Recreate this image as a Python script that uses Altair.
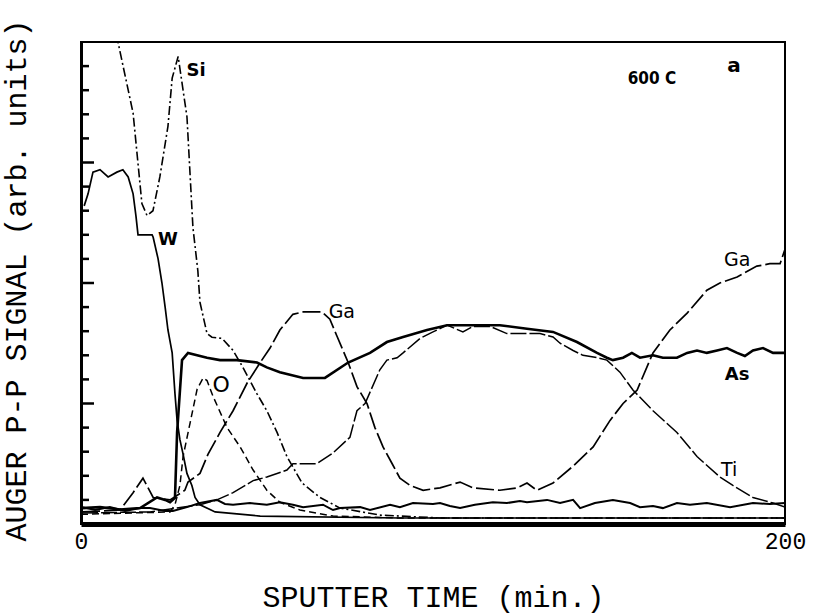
import altair as alt
import pandas as pd

# Auger depth profile, 600 C anneal: peak-to-peak signal vs sputter time
si_min = [9.0, 10.5, 14.8, 17.3, 18.75, 20.45, 22.4, 24.7, 25.9, 27.6, 30.1, 31.8, 33.2, 33.8, 35.8,
          37.2, 40.1, 43.2, 46.0, 50.0, 52.8, 55.7, 58.5, 62.8, 67.9, 73.6, 84.9, 102.0, 200.0]
si_sig = [21.0, 20.0, 17.05, 13.3, 12.8, 13.0, 14.4, 16.5, 18.5, 19.4, 16.9, 12.3, 10.5, 9.2, 7.9,
          7.75, 7.7, 7.2, 6.5, 5.4, 4.7, 3.8, 2.8, 1.7, 1.1, 0.66, 0.37, 0.25, 0.25]

w_min = [0.9, 2.0, 3.4, 5.4, 7.7, 10.2, 11.9, 13.4, 14.8, 15.6, 16.2, 20.2, 20.5, 21.9, 23.0, 23.9,
         24.7, 25.9, 26.7, 27.3, 28.1, 29.0, 30.1, 31.5, 32.4, 33.8, 38.1, 50.9, 90.6, 200.0]
w_sig = [13.2, 13.7, 14.6, 14.7, 14.4, 14.6, 14.7, 14.4, 13.7, 12.8, 12.0, 12.0, 11.9, 11.0, 10.0, 9.0,
         8.05, 7.1, 5.4, 4.3, 3.5, 2.9, 2.1, 1.6, 1.1, 0.8, 0.5, 0.33, 0.25, 0.25]

o_min = [0.0, 25.3, 26.7, 28.1, 29.0, 31.0, 33.0, 34.7, 35.8, 37.5, 41.5, 45.2, 48.9, 52.8, 56.5,
         62.2, 71.6, 90.6, 200.0]
o_sig = [0.4, 0.5, 0.8, 1.6, 2.8, 4.2, 5.6, 6.06, 5.95, 5.3, 4.0, 3.2, 2.24, 1.4, 0.9,
         0.58, 0.33, 0.25, 0.25]

ga_min = [0.3, 11.1, 14.8, 17.6, 20.5, 25.3, 29.5, 30.4, 33.8, 36.1, 39.5, 43.2, 47.2, 50.9, 53.7,
          56.5, 60.2, 63.1, 68.5, 70.7, 72.7, 75.9, 78.4, 81.25, 83.5, 85.8, 88.4, 90.6, 93.5, 97.2,
          102.0, 107.7, 111.4, 119.0, 123.9, 126.7, 129.5, 134.1, 139.8, 145.5, 150.3, 154.0, 158.0,
          162.5, 167.3, 172.2, 177.8, 181.5, 186.4, 192.0, 195.7, 198.6, 200.0]
ga_sig = [0.5, 0.58, 1.3, 1.9, 1.1, 1.0, 1.4, 1.74, 2.1, 2.9, 3.8, 4.7, 5.85, 6.7, 7.3,
          8.05, 8.7, 8.8, 8.8, 8.5, 7.8, 6.7, 5.7, 5.0, 4.0, 3.2, 2.5, 1.9, 1.6, 1.4,
          1.5, 1.74, 1.5, 1.4, 1.5, 1.7, 1.4, 1.7, 2.4, 3.2, 4.3, 5.0, 5.56,
          7.1, 8.05, 8.75, 9.7, 10.0, 10.25, 10.7, 10.8, 10.8, 11.4]

ti_min = [0.3, 19.6, 33.8, 38.6, 43.2, 48.9, 52.8, 58.5, 60.2, 67.0, 71.6, 76.4, 78.4, 80.7, 84.9,
          86.9, 89.8, 91.5, 96.3, 100.0, 104.0, 108.5, 111.4, 116.2, 121.0, 126.7, 130.4, 134.1,
          136.1, 139.8, 142.6, 146.6, 149.4, 153.1, 156.8, 162.5, 169.3, 175.0, 181.5, 185.2,
          190.9, 196.6, 200.0]
ti_sig = [0.46, 0.5, 0.8, 1.0, 1.3, 1.8, 1.95, 2.24, 2.5, 2.5, 2.95, 3.6, 4.7, 5.0, 6.4,
          6.8, 6.9, 7.1, 7.7, 7.97, 8.25, 7.97, 8.2, 8.2, 7.9, 7.9, 7.9, 7.76,
          7.5, 7.2, 7.0, 6.9, 6.8, 6.3, 5.56, 4.7, 3.8, 2.8, 1.95, 1.6,
          1.1, 0.87, 0.7]

as_min = [0.3, 5.4, 11.1, 16.8, 21.6, 23.9, 25.3, 26.7, 27.3, 28.7, 30.4, 35.8, 39.5, 44.3, 50.0,
          52.8, 56.5, 63.1, 69.3, 75.9, 82.1, 86.9, 91.5, 98.3, 104.0, 111.4, 119.0, 126.7, 134.1,
          140.9, 146.6, 149.4, 151.1, 154.0, 156.5, 158.8, 162.5, 165.3, 169.3, 172.2, 175.0,
          177.8, 180.7, 183.5, 186.4, 188.6, 190.9, 193.75, 196.6, 200.0]
as_sig = [0.66, 0.7, 0.6, 0.66, 1.1, 1.0, 0.9, 1.08, 3.8, 6.8, 7.1, 6.9, 6.8, 6.8, 6.7,
          6.5, 6.3, 6.06, 6.06, 6.7, 7.1, 7.55, 7.76, 8.05, 8.25, 8.25, 8.25, 8.1, 7.97,
          7.55, 7.1, 6.9, 6.8, 6.9, 7.1, 6.9, 7.0, 6.9, 6.9, 7.1, 7.2,
          7.1, 7.2, 7.3, 7.1, 6.97, 7.2, 7.3, 7.1, 7.1]

# low-level background trace near the baseline
bg_min = [0.3, 4.0, 8.2, 12.5, 16.8, 19.6, 23.9, 26.1, 30.1, 33.8, 38.6, 40.9, 43.2, 48.0, 52.8,
          56.5, 60.2, 63.1, 68.75, 71.6, 73.6, 79.3, 82.1, 87.8, 90.6, 94.3, 100.0, 102.0, 104.8,
          107.7, 111.9, 117.0, 121.0, 124.7, 126.7, 132.4, 136.1, 139.8, 141.8, 146.0, 151.1,
          156.0, 158.8, 162.5, 165.3, 169.3, 173.0, 177.8, 184.4, 190.9, 195.7, 200.0]
bg_sig = [0.7, 0.58, 0.7, 0.54, 0.66, 0.66, 0.54, 0.54, 0.7, 0.87, 1.0, 0.83, 0.8, 0.87, 0.8,
          0.9, 0.8, 0.7, 0.8, 0.58, 0.66, 0.7, 0.58, 0.8, 0.7, 0.87, 0.83, 0.87, 0.75,
          0.66, 0.8, 0.9, 0.87, 0.95, 0.9, 1.0, 0.87, 1.0, 0.66, 0.87, 1.0,
          0.87, 0.7, 0.75, 0.66, 0.87, 0.8, 0.87, 0.7, 0.87, 0.83, 0.87]

minor_ticks = [1, 2, 3, 4, 6, 7, 8, 9, 11, 12, 13, 14, 16, 17, 18, 19]
major_ticks = [5, 10, 15]

# species labels set in bold type
bold_text = ["Si", "W", "As"]
bold_min = [32.7, 24.7, 186.4]
bold_sig = [18.8, 11.8, 6.2]

# species labels set in regular type
plain_text = ["Ga", "Ga", "Ti"]
plain_min = [74.1, 186.4, 184.1]
plain_sig = [8.8, 10.95, 2.24]

oxy_text = ["O"]
oxy_min = [39.8]
oxy_sig = [5.77]

FONT_AXIS = "Liberation Mono"

xenc = alt.X("x:Q", scale=alt.Scale(domain=[0, 200], nice=False, zero=False),
             axis=alt.Axis(values=[0, 200], title="SPUTTER TIME  (min.)", ticks=False, grid=False,
                           domainWidth=5, domainColor="black", labelFont=FONT_AXIS,
                           labelFontSize=23, labelColor="black", labelPadding=6, labelFlush=False,
                           titleFont=FONT_AXIS, titleFontSize=30, titleFontWeight="normal",
                           titleColor="black", titleY=73, titleBaseline="middle"))
yenc = alt.Y("y:Q", scale=alt.Scale(domain=[0, 20], nice=False, zero=False),
             axis=alt.Axis(labels=False, ticks=False, grid=False, domainWidth=3, domainColor="black",
                           title="AUGER P-P SIGNAL  (arb. units)", titleFont=FONT_AXIS,
                           titleFontSize=30, titleFontWeight="normal", titleColor="black",
                           titleX=-65, titleY=238, titleBaseline="middle", titleAlign="center"))


def series(xs, ys):
    return pd.DataFrame({"x": xs, "y": ys, "i": range(len(xs))})


def trace(xs, ys, width, dash=None):
    kw = {"color": "black", "strokeWidth": width, "clip": True}
    if dash:
        kw["strokeDash"] = dash
    return alt.Chart(series(xs, ys)).mark_line(**kw).encode(x=xenc, y=yenc, order="i:Q")


def words(texts, xs, ys, **style):
    df = pd.DataFrame({"x": xs, "y": ys, "t": texts})
    return alt.Chart(df).mark_text(color="black", align="center", baseline="middle", **style).encode(
        x=xenc, y=yenc, text="t:N")


layers = [
    trace(bg_min, bg_sig, 2.0),
    trace(w_min, w_sig, 1.7),
    trace(si_min, si_sig, 1.6, [9, 3, 2, 3]),
    trace(o_min, o_sig, 1.5, [7, 4]),
    trace(ga_min, ga_sig, 1.7, [18, 4]),
    trace(ti_min, ti_sig, 1.5, [16, 3]),
    trace(as_min, as_sig, 2.6),
]

minor = alt.Chart(pd.DataFrame({"y": minor_ticks})).mark_rule(color="black", strokeWidth=2.5).encode(
    y=yenc, x=alt.value(0), x2=alt.value(8))
major = alt.Chart(pd.DataFrame({"y": major_ticks})).mark_rule(color="black", strokeWidth=2.5).encode(
    y=yenc, x=alt.value(0), x2=alt.value(13))

bold_labels = words(bold_text, bold_min, bold_sig, font="DejaVu Sans", fontSize=18, fontWeight="bold")
plain_labels = words(plain_text, plain_min, plain_sig, font="DejaVu Sans", fontSize=19,
                     fontWeight="normal")
oxy_label = words(oxy_text, oxy_min, oxy_sig, font="DejaVu Sans", fontSize=22, fontWeight="normal")
cond = words(["600 C"], [162.2], [18.45], font="DejaVu Sans Condensed", fontSize=17,
             fontWeight="bold")
panel = words(["a"], [185.5], [19.0], font="DejaVu Sans", fontSize=20, fontWeight="bold")

chart = alt.layer(*layers, minor, major, bold_labels, plain_labels, oxy_label, cond, panel).properties(
    width=704, height=482,
    autosize=alt.AutoSizeParams(type="none"),
    padding={"left": 81, "top": 42, "right": 28, "bottom": 92},
    background="white",
).configure_view(stroke="black", strokeWidth=2)

chart.save("out.html", embed_options={"renderer": "svg", "actions": False})
